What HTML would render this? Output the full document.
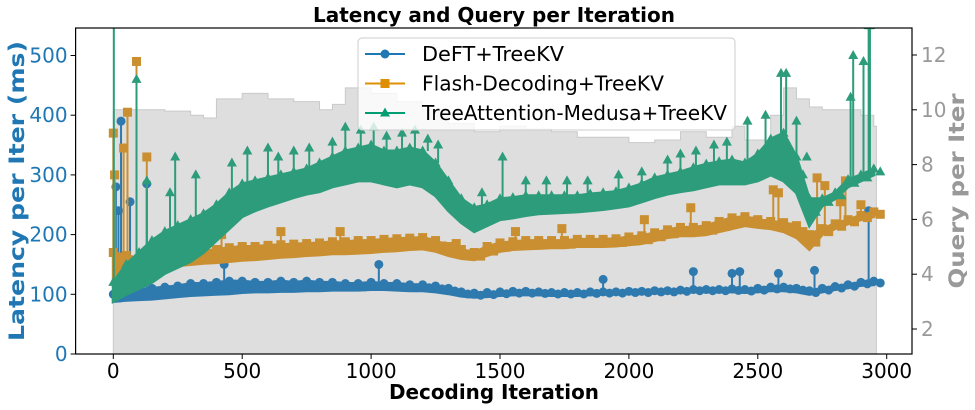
<!DOCTYPE html>
<html><head><meta charset="utf-8"><style>
body{margin:0;background:#fff}
svg{display:block;font-family:"DejaVu Sans","Liberation Sans",sans-serif}
</style></head><body>
<svg id="chart" width="975" height="410"></svg>
<script>
const iters=[0,50,100,150,200,250,300,350,400,450,500,550,600,650,700,750,800,850,900,950,1000,1050,1100,1150,1200,1250,1300,1350,1400,1450,1500,1550,1600,1650,1700,1750,1800,1850,1900,1950,2000,2050,2100,2150,2200,2250,2300,2350,2400,2450,2500,2550,2600,2650,2700,2750,2800,2850,2900,2950];
const blueLo=[88,90,91,92,94,96,98,99,100,101,103,104,104,105,105,106,106,107,107,107,108,108,107,106,106,104,101,97,95,96,98,99,99,99,98,98,98,99,100,100,101,101,102,102,103,104,104,104,104,103,104,106,106,104,100,104,108,111,115,116];
const blueHi=[100,105,108,110,112,114,118,118,120,122,122,120,120,122,120,122,120,120,118,118,120,118,118,116,116,114,110,104,102,103,104,105,105,104,103,103,103,104,104,104,105,105,106,106,107,108,108,108,109,108,110,112,112,110,106,110,113,116,120,122];
const orangeLo=[115,130,135,140,145,148,150,152,153,155,157,158,160,162,163,165,166,168,168,169,170,172,173,175,176,172,165,160,158,165,172,175,176,177,178,178,180,180,180,181,183,185,190,195,198,198,200,205,210,215,212,210,205,195,175,200,210,218,225,230];
const orangeHi=[170,165,160,160,165,168,170,172,175,178,180,180,182,183,184,185,186,188,188,190,190,192,193,194,195,190,180,175,170,180,186,188,190,190,190,190,192,192,192,193,196,198,203,208,212,212,215,222,228,230,225,222,220,215,200,210,218,225,232,238];
const greenLo=[88,100,110,120,135,145,155,170,190,210,230,240,248,255,262,268,272,280,285,290,290,285,280,285,280,265,240,220,205,215,225,228,232,235,236,237,238,240,242,245,248,255,262,268,272,275,280,285,285,285,290,300,290,270,215,248,260,280,290,300];
const greenHi=[120,150,170,190,205,215,225,235,250,270,285,290,295,300,305,310,320,330,340,345,350,340,340,345,340,320,290,260,245,250,260,262,265,265,265,265,265,268,270,272,278,285,295,300,305,312,318,322,325,320,335,360,370,330,260,260,270,292,300,310];
const blueSpikeIt=[10,30,20,65,130,430,1030,1900,2250,2400,2430,2580,2720,2930];
const blueSpikeVal=[280,390,240,255,285,150,150,125,138,135,138,135,140,240];
const orangeSpikeIt=[0,5,40,55,90,130,270,420,650,880,1330,1560,1740,2060,2240,2560,2580,2730,2760,2820,2840,2900];
const orangeSpikeVal=[370,300,345,405,490,330,190,200,205,205,185,205,210,225,245,275,270,295,282,255,290,250];
const greenSpikeIt=[2,90,130,240,220,320,460,520,600,640,700,760,850,900,960,1010,1060,1120,1170,1220,1260,1430,1510,1600,1680,1760,1840,1960,2050,2150,2200,2260,2330,2380,2460,2530,2590,2610,2650,2690,2860,2870,2910,2930,2935];
const greenSpikeVal=[560,460,290,330,270,300,320,340,345,330,340,345,355,380,375,380,365,370,375,360,350,270,330,290,290,290,290,300,305,325,335,340,350,355,390,400,470,470,390,330,430,500,490,550,550];
const queryIt=[0,100,200,300,350,400,500,600,700,800,850,900,1000,1100,1200,1300,1400,1500,1600,1700,1800,1900,2000,2100,2200,2300,2400,2450,2500,2550,2600,2650,2700,2750,2800,2850,2900,2950];
const queryVal=[10.0,10.0,9.95,9.8,9.7,10.4,10.6,10.4,10.3,10.0,10.2,10.8,10.6,10.3,10.0,9.5,9.2,9.4,9.3,9.2,9.0,9.0,8.8,8.9,9.2,9.0,9.4,8.9,8.9,9.8,10.8,10.4,10.1,10.0,10.0,10.0,9.8,9.4];
const xTicks=[0,500,1000,1500,2000,2500,3000];
const yTicks=[0,100,200,300,400,500];
const y2Ticks=[2,4,6,8,10,12];

const NS="http://www.w3.org/2000/svg";
const svg=document.getElementById('chart');
const L=75.6,R=912,T=28,B=354;
const x=i=>113.3+i*0.2578;
const yL=v=>354-v*0.597;
const yR=q=>329-(q-2)*27.4;
function el(tag,attrs,parent){const e=document.createElementNS(NS,tag);for(const k in attrs)e.setAttribute(k,attrs[k]);(parent||svg).appendChild(e);return e;}
function txt(s,attrs,parent){const e=el('text',attrs,parent);e.textContent=s;return e;}

const clip=el('clipPath',{id:'pc'});el('rect',{x:L,y:T,width:R-L,height:B-T},clip);
const plot=el('g',{'clip-path':'url(#pc)'});



let d='M'+x(queryIt[0])+','+B;
for(let k=0;k<queryIt.length;k++){const xe=k+1<queryIt.length?x(queryIt[k+1]):x(2960);d+=' L'+x(queryIt[k])+','+yR(queryVal[k])+' L'+xe+','+yR(queryVal[k]);}
d+=' L'+x(2960)+','+B+'Z';
const area=el('path',{d:d,fill:'#dedede',stroke:'#c9c9c9','stroke-width':1},plot);



function series(name,lo,hi,spIt,spVal,color,marker){
  const g=el('g',{},plot);
  
  
  let p='';
  for(let k=0;k<iters.length;k++)p+=(k?' L':'M')+x(iters[k])+','+yL(hi[k]);
  for(let k=iters.length-1;k>=0;k--)p+=' L'+x(iters[k])+','+yL(lo[k]);
  p+='Z';
  el('path',{d:p,fill:color,stroke:color,'stroke-width':3},g);
  for(let k=0;k<spIt.length;k++){
    let j=0;while(j<iters.length-1&&iters[j+1]<=spIt[k])j++;
    const base=hi[j];
    el('line',{x1:x(spIt[k]),x2:x(spIt[k]),y1:yL(base),y2:yL(spVal[k]),stroke:color,'stroke-width':2},g);
    mark(g,x(spIt[k]),yL(spVal[k]),color,marker);
  }
  for(let k=0;k<iters.length;k++){mark(g,x(iters[k]),yL(hi[k]),color,marker);mark(g,x(iters[k]+25),yL((hi[k]+lo[k])/2),color,marker);}
}
function mark(g,cx,cy,c,m){
  if(m==='o')el('circle',{cx:cx,cy:cy,r:4.5,fill:c},g);
  else if(m==='s')el('rect',{x:cx-4.5,y:cy-4.5,width:9,height:9,fill:c},g);
  else el('path',{d:`M${cx},${cy-5.5}L${cx+5},${cy+3.5}L${cx-5},${cy+3.5}Z`,fill:c},g);
}
series('deft-treekv',blueLo,blueHi,blueSpikeIt,blueSpikeVal,'#2e7aaf','o');
series('flash-decoding-treekv',orangeLo,orangeHi,orangeSpikeIt,orangeSpikeVal,'#c98f30','s');
series('treeattention-medusa-treekv',greenLo,greenHi,greenSpikeIt,greenSpikeVal,'#2d9c7a','^');

const fr=el('rect',{x:L,y:T,width:R-L,height:B-T,fill:'none',stroke:'#000','stroke-width':1.2});



const xa=el('g',{});


xTicks.forEach(t=>{el('line',{x1:x(t),x2:x(t),y1:B,y2:B+5,stroke:'#000'},xa);txt(String(t),{x:x(t),y:B+24,'text-anchor':'middle','font-size':20,fill:'#000'},xa);});
const ya=el('g',{});


yTicks.forEach(t=>{el('line',{x1:L-5,x2:L,y1:yL(t),y2:yL(t),stroke:'#000'},ya);txt(String(t),{x:L-8,y:yL(t)+7,'text-anchor':'end','font-size':20,fill:'#1f77b4'},ya);});
const yb=el('g',{});


y2Ticks.forEach(t=>{el('line',{x1:R,x2:R+5,y1:yR(t),y2:yR(t),stroke:'#000'},yb);txt(String(t),{x:R+9,y:yR(t)+7,'font-size':20,fill:'#999'},yb);});

const ttl=txt('Latency and Query per Iteration',{x:494,y:22,'text-anchor':'middle','font-size':20,'font-weight':'bold',textLength:362,lengthAdjust:'spacingAndGlyphs'});


const xt=txt('Decoding Iteration',{x:494,y:399,'text-anchor':'middle','font-size':20,'font-weight':'bold',textLength:210,lengthAdjust:'spacingAndGlyphs'});


const yt=txt('Latency per Iter (ms)',{x:0,y:0,transform:'translate(24,191) rotate(-90)','text-anchor':'middle','font-size':21,'font-weight':'bold',fill:'#1f77b4',textLength:300,lengthAdjust:'spacingAndGlyphs'});


const yt2=txt('Query per Iter',{x:0,y:0,transform:'translate(964,191) rotate(-90)','text-anchor':'middle','font-size':21,'font-weight':'bold',fill:'#999',textLength:195,lengthAdjust:'spacingAndGlyphs'});



const lg=el('g',{});


el('rect',{x:358,y:38,width:377,height:92,rx:4,fill:'rgba(255,255,255,0.8)',stroke:'#ccc'},lg);
const leg=[['DeFT+TreeKV','#1f77b4','o',142],['Flash-Decoding+TreeKV','#de8f05','s',242],['TreeAttention-Medusa+TreeKV','#029e73','^',305]];
leg.forEach((e,k)=>{
  const ey=54+k*29.5;
  const ge=el('g',{},lg);
  
  
  el('line',{x1:365,x2:405,y1:ey,y2:ey,stroke:e[1],'stroke-width':2},ge);
  mark(ge,385,ey,e[1],e[2]);
  txt(e[0],{x:422,y:ey+7,'font-size':20,textLength:e[3],lengthAdjust:'spacingAndGlyphs'},ge);
});
</script>
</body></html>
